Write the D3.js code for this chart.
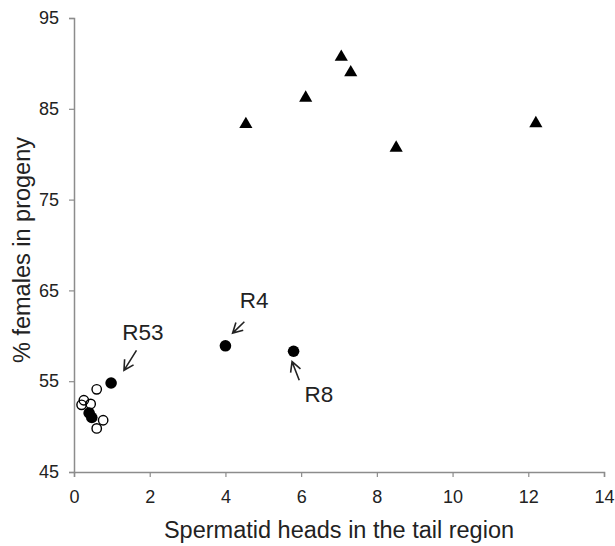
<!DOCTYPE html>
<html>
<head>
<meta charset="utf-8">
<script src="https://cdn.jsdelivr.net/npm/d3@7"></script>
<style>
  body { margin: 0; background: #fff; }
  text { font-family: "Liberation Sans", Arial, sans-serif; fill: #222; }
</style>
</head>
<body>
<script>
// data
const triangles = [[4.54, 83.3], [6.12, 86.2], [7.06, 90.7], [7.31, 89.0], [8.51, 80.7], [12.2, 83.4]];
const openCircles = [[0.60, 54.1], [0.26, 52.9], [0.20, 52.4], [0.44, 52.5], [0.77, 50.7], [0.60, 49.8]];
const filledCircles = [[0.98, 54.8], [4.0, 58.9], [5.8, 58.3], [0.40, 51.5], [0.47, 51.0]];
// labels: text, x, y, arrow from [x,y] to [x,y]
const labels = [
  {name: "R53", x: 1.82, y: 59.5, from: [1.65, 58.4], to: [1.32, 56.2]},
  {name: "R4", x: 4.76, y: 63.1, from: [4.5, 61.55], to: [4.19, 60.3]},
  {name: "R8", x: 6.47, y: 52.7, from: [5.95, 55.1], to: [5.76, 57.15]}
];
const xTicks = [0, 2, 4, 6, 8, 10, 12, 14];
const yTicks = [45, 55, 65, 75, 85, 95];

const W = 615, H = 546;
const margin = {top: 18, right: 11, bottom: 74, left: 74};

let svg = d3.select("body").append("svg")
  .attr("width", W)
  .attr("height", H);

const x = d3.scaleLinear().domain([0, 14]).range([margin.left, W - margin.right]);
const y = d3.scaleLinear().domain([45, 95]).range([H - margin.bottom, margin.top]);

const axisColor = "#8c8c8c";

// x axis
const gx = svg.append("g")
  .attr("transform", `translate(0,${y(45)})`)
  .call(d3.axisBottom(x).tickValues(xTicks).tickSize(5).tickPadding(13).tickFormat(d3.format("d")));
// y axis
const gy = svg.append("g")
  .attr("transform", `translate(${x(0)},0)`)
  .call(d3.axisLeft(y).tickValues(yTicks).tickSize(5).tickPadding(10).tickFormat(d3.format("d")));

[gx, gy].forEach(g => {
  g.select(".domain").attr("stroke", axisColor).attr("stroke-width", 1.5);
  g.selectAll(".tick line").attr("stroke", axisColor).attr("stroke-width", 1.2);
  g.selectAll(".tick text").style("font-size", "18px").attr("fill", "#222")
    .style("font-family", "'Liberation Sans', Arial, sans-serif");
});

// axis titles
svg.append("text")
  .attr("x", (x(0) + x(14)) / 2)
  .attr("y", 538)
  .attr("text-anchor", "middle")
  .style("font-size", "23.5px")
  .text("Spermatid heads in the tail region");

svg.append("text")
  .attr("transform", `translate(30,${(y(45) + y(95)) / 2 + 5}) rotate(-90)`)
  .attr("text-anchor", "middle")
  .style("font-size", "23.5px")
  .text("% females in progeny");

// triangles
svg.selectAll("path.tri")
  .data(triangles)
  .join("path")
  .attr("class", "tri")
  .attr("d", d3.symbol(d3.symbolTriangle, 75))
  .attr("transform", d => `translate(${x(d[0])},${y(d[1])})`)
  .attr("fill", "#000");

// open circles
svg.selectAll("circle.open")
  .data(openCircles)
  .join("circle")
  .attr("class", "open")
  .attr("cx", d => x(d[0]))
  .attr("cy", d => y(d[1]))
  .attr("r", 4.7)
  .attr("fill", "none")
  .attr("stroke", "#000")
  .attr("stroke-width", 1.4);

// filled circles
svg.selectAll("circle.filled")
  .data(filledCircles)
  .join("circle")
  .attr("class", "filled")
  .attr("cx", d => x(d[0]))
  .attr("cy", d => y(d[1]))
  .attr("r", 5.8)
  .attr("fill", "#000");

// labels + arrows
svg.selectAll("text.lab")
  .data(labels)
  .join("text")
  .attr("class", "lab")
  .attr("x", d => x(d.x))
  .attr("y", d => y(d.y))
  .attr("text-anchor", "middle")
  .style("font-size", "22.5px")
  .text(d => d.name);

function arrowPath(d) {
  const x1 = x(d.from[0]), y1 = y(d.from[1]);
  const x2 = x(d.to[0]), y2 = y(d.to[1]);
  const a = Math.atan2(y2 - y1, x2 - x1);
  const L = 11, sp = 0.5;
  const p = d3.path();
  p.moveTo(x1, y1); p.lineTo(x2, y2);
  p.moveTo(x2 - L * Math.cos(a - sp), y2 - L * Math.sin(a - sp));
  p.lineTo(x2, y2);
  p.lineTo(x2 - L * Math.cos(a + sp), y2 - L * Math.sin(a + sp));
  return p.toString();
}

svg.selectAll("path.arrow")
  .data(labels)
  .join("path")
  .attr("class", "arrow")
  .attr("d", arrowPath)
  .attr("fill", "none")
  .attr("stroke", "#222")
  .attr("stroke-width", 1.6);
</script>
</body>
</html>
